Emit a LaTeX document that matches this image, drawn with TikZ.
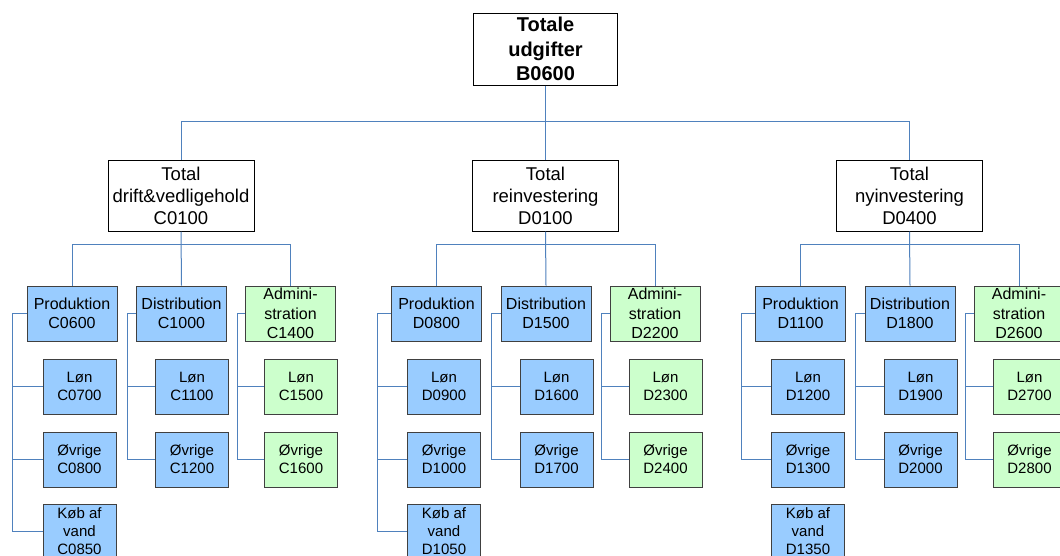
\documentclass[tikz,border=0pt]{standalone}
\usepackage{fontspec}
\setmainfont{Liberation Sans}
\definecolor{linkblue}{RGB}{79,129,189}
\definecolor{boxblue}{RGB}{153,204,255}
\definecolor{boxgreen}{RGB}{204,255,204}
\tikzset{
  link/.style={draw=linkblue, line width=1pt},
  topbox/.style={draw=black, fill=white, line width=1pt, minimum width=144, minimum height=72,
    inner sep=0pt, align=center, font=\fontsize{20}{24.5}\selectfont\bfseries},
  midbox/.style={draw=black, fill=white, line width=1pt, minimum width=146, minimum height=71,
    inner sep=0pt, align=center, font=\fontsize{18.5}{22}\selectfont},
  catbox/.style={draw=black!75, line width=1pt, minimum width=90, minimum height=55,
    inner sep=0pt, align=center, font=\fontsize{16}{19.5}\selectfont},
  leafbox/.style={draw=black!75, line width=1pt, minimum width=73, minimum height=55,
    inner sep=0pt, align=center, font=\fontsize{15}{18}\selectfont},
  blue/.style={fill=boxblue},
  green/.style={fill=boxgreen}
}
\begin{document}
\begin{tikzpicture}[x=1pt,y=-1pt]
\clip (0,0) rectangle (1060,555);
\fill[white] (0,0) rectangle (1060,555);

% root
\node[topbox] (top) at (545.5,49) {Totale\\udgifter\\B0600};

% three cost branches
\foreach \g/\dx/\tn/\tc/\pc/\plc/\poc/\pkc/\dc/\dlc/\doc/\ac/\alc/\aoc in {
  1/0/drift\&vedligehold/C0100/C0600/C0700/C0800/C0850/C1000/C1100/C1200/C1400/C1500/C1600,
  2/364.5/reinvestering/D0100/D0800/D0900/D1000/D1050/D1500/D1600/D1700/D2200/D2300/D2400,
  3/728.5/nyinvestering/D0400/D1100/D1200/D1300/D1350/D1800/D1900/D2000/D2600/D2700/D2800}
{
  \node[midbox] (t\g) at (181+\dx,195.5) {Total\\\tn\\\tc};

  \node[catbox,blue]  (p\g) at (72+\dx,313.5)  {Produktion\\\pc};
  \node[catbox,blue]  (d\g) at (181.5+\dx,313.5) {Distribution\\\dc};
  \node[catbox,green] (a\g) at (290.5+\dx,313.5) {Admini-\\stration\\\ac};

  \node[leafbox,blue] (pl\g) at (79.5+\dx,386.5) {Løn\\\plc};
  \node[leafbox,blue] (po\g) at (79.5+\dx,459.5) {Øvrige\\\poc};
  \node[leafbox,blue] (pk\g) at (79.5+\dx,531.5) {Køb af\\vand\\\pkc};

  \node[leafbox,blue] (dl\g) at (192+\dx,386.5) {Løn\\\dlc};
  \node[leafbox,blue] (do\g) at (192+\dx,459.5) {Øvrige\\\doc};

  \node[leafbox,green] (al\g) at (301+\dx,386.5) {Løn\\\alc};
  \node[leafbox,green] (ao\g) at (301+\dx,459.5) {Øvrige\\\aoc};

  % branch to its three categories
  \draw[link] (t\g.south) -- (d\g.north);
  \draw[link] (p\g.north) -- ++(0,-41) -| (a\g.north);

  % side brackets down to the sub-items
  \path (p\g.west) ++(-14,0) coordinate (pb\g);
  \path (d\g.west) ++(-9,0) coordinate (db\g);
  \path (a\g.west) ++(-8,0) coordinate (ab\g);
  \draw[link] (p\g.west) -- (pb\g) |- (po\g.west);
  \draw[link] (pb\g) |- (pl\g.west);
  \draw[link] (d\g.west) -- (db\g) |- (do\g.west);
  \draw[link] (db\g) |- (dl\g.west);
  \draw[link] (a\g.west) -- (ab\g) |- (ao\g.west);
  \draw[link] (ab\g) |- (al\g.west);
}

% water purchase items hooked to their production bracket
\draw[link] (pb1) |- (pk1.west);
\draw[link] (pb2) |- (pk2.west);

% root to branches
\draw[link] (top.south) -- (t2.north);
\draw[link] (t1.north) -- ++(0,-38) -| (t3.north);
\end{tikzpicture}
\end{document}
